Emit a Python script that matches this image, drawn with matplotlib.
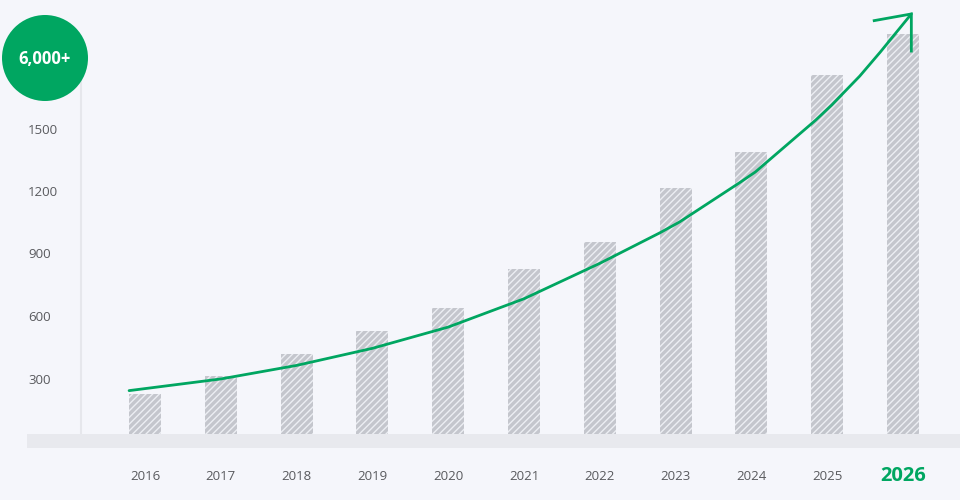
import matplotlib
matplotlib.use("Agg")
import matplotlib.pyplot as plt
from matplotlib.patches import Ellipse

plt.rcParams['font.family'] = ['Open Sans', 'DejaVu Sans']
plt.rcParams['hatch.linewidth'] = 1.0
plt.rcParams['hatch.color'] = '#eceef3'

years = ['2016', '2017', '2018', '2019', '2020', '2021', '2022', '2023', '2024', '2025', '2026']
values = [233, 319, 425, 535, 646, 833, 962, 1222, 1394, 1764, 1961]
yticks = [300, 600, 900, 1200, 1500]
trend_x = [-0.21, 1, 2, 3, 4, 5, 6, 6.79, 7.05, 7.84, 8.05, 8.85, 9.06, 9.43, 9.70, 10.11]
trend_y = [249, 305, 370, 452, 554, 690, 860, 1006, 1058, 1246, 1298, 1548, 1620, 1759, 1874, 2057]
arrow_left = (9.62, 2025)
arrow_down = (10.11, 1879)
badge_text = '6,000+'

BG = '#f5f6fb'
GREEN = '#00a661'
BAR = '#c4c6cd'
BAND = '#e8e9ee'
TXT = '#595a5e'

W, H = 960, 500
fig = plt.figure(figsize=(W / 100, H / 100), dpi=100, facecolor=BG)
ax = fig.add_axes([0, 0, 1, 1])
ax.set_facecolor(BG)

# pixel mapping: x idx 0 at px 145, spacing 75.8; y zero at px 442.5, 4.8 units/px
x0, dx = 145.0, 75.8
y0, uy = 442.5, 4.8
ax.set_xlim(-x0 / dx, (W - x0) / dx)
ax.set_ylim((y0 - H) * uy, y0 * uy)
ax.axis('off')


def px2x(p):
    return (p - x0) / dx


def py2y(p):
    return (y0 - p) * uy


xs = list(range(len(years)))
ax.bar(xs, values, width=32 / dx, color=BAR, hatch='/////', edgecolor='#eceef3',
       linewidth=0, zorder=2)

# bottom band (x-axis)
ax.axhspan(py2y(448), py2y(434), xmin=27 / W, xmax=1, color=BAND, zorder=3, lw=0)

# vertical axis line
ax.plot([px2x(81), px2x(81)], [py2y(40), py2y(434)], color='#e6e7ec', lw=1.5, zorder=1)

# y tick labels (left aligned)
for v in yticks:
    ax.text(px2x(28), v, f'{v}', ha='left', va='center', fontsize=9.5, color=TXT, zorder=5)

# x tick labels
for i, yl in enumerate(years):
    if i == len(years) - 1:
        ax.text(i, py2y(476), yl, ha='center', va='center', fontsize=14.5,
                fontweight='bold', color=GREEN, zorder=5)
    else:
        ax.text(i, py2y(477), yl, ha='center', va='center', fontsize=9.5,
                color=TXT, zorder=5)

# trend curve and arrow head
ax.plot(trend_x, trend_y, color=GREEN, lw=2, zorder=4, solid_capstyle='round',
        solid_joinstyle='round')
tip = (trend_x[-1], trend_y[-1])
ax.plot([arrow_left[0], tip[0], arrow_down[0]], [arrow_left[1], tip[1], arrow_down[1]],
        color=GREEN, lw=2, zorder=4, solid_joinstyle='miter')

# badge
ell = Ellipse((45 / W, 1 - 58 / H), 86 / W, 86 / H, transform=fig.transFigure,
              facecolor=GREEN, edgecolor='none', zorder=6)
fig.patches.append(ell)
fig.text(45 / W, 1 - 59 / H, badge_text, ha='center', va='center', fontsize=12,
         fontweight='bold', color='white', zorder=7)

fig.savefig('out.png', dpi=100, facecolor=BG)
